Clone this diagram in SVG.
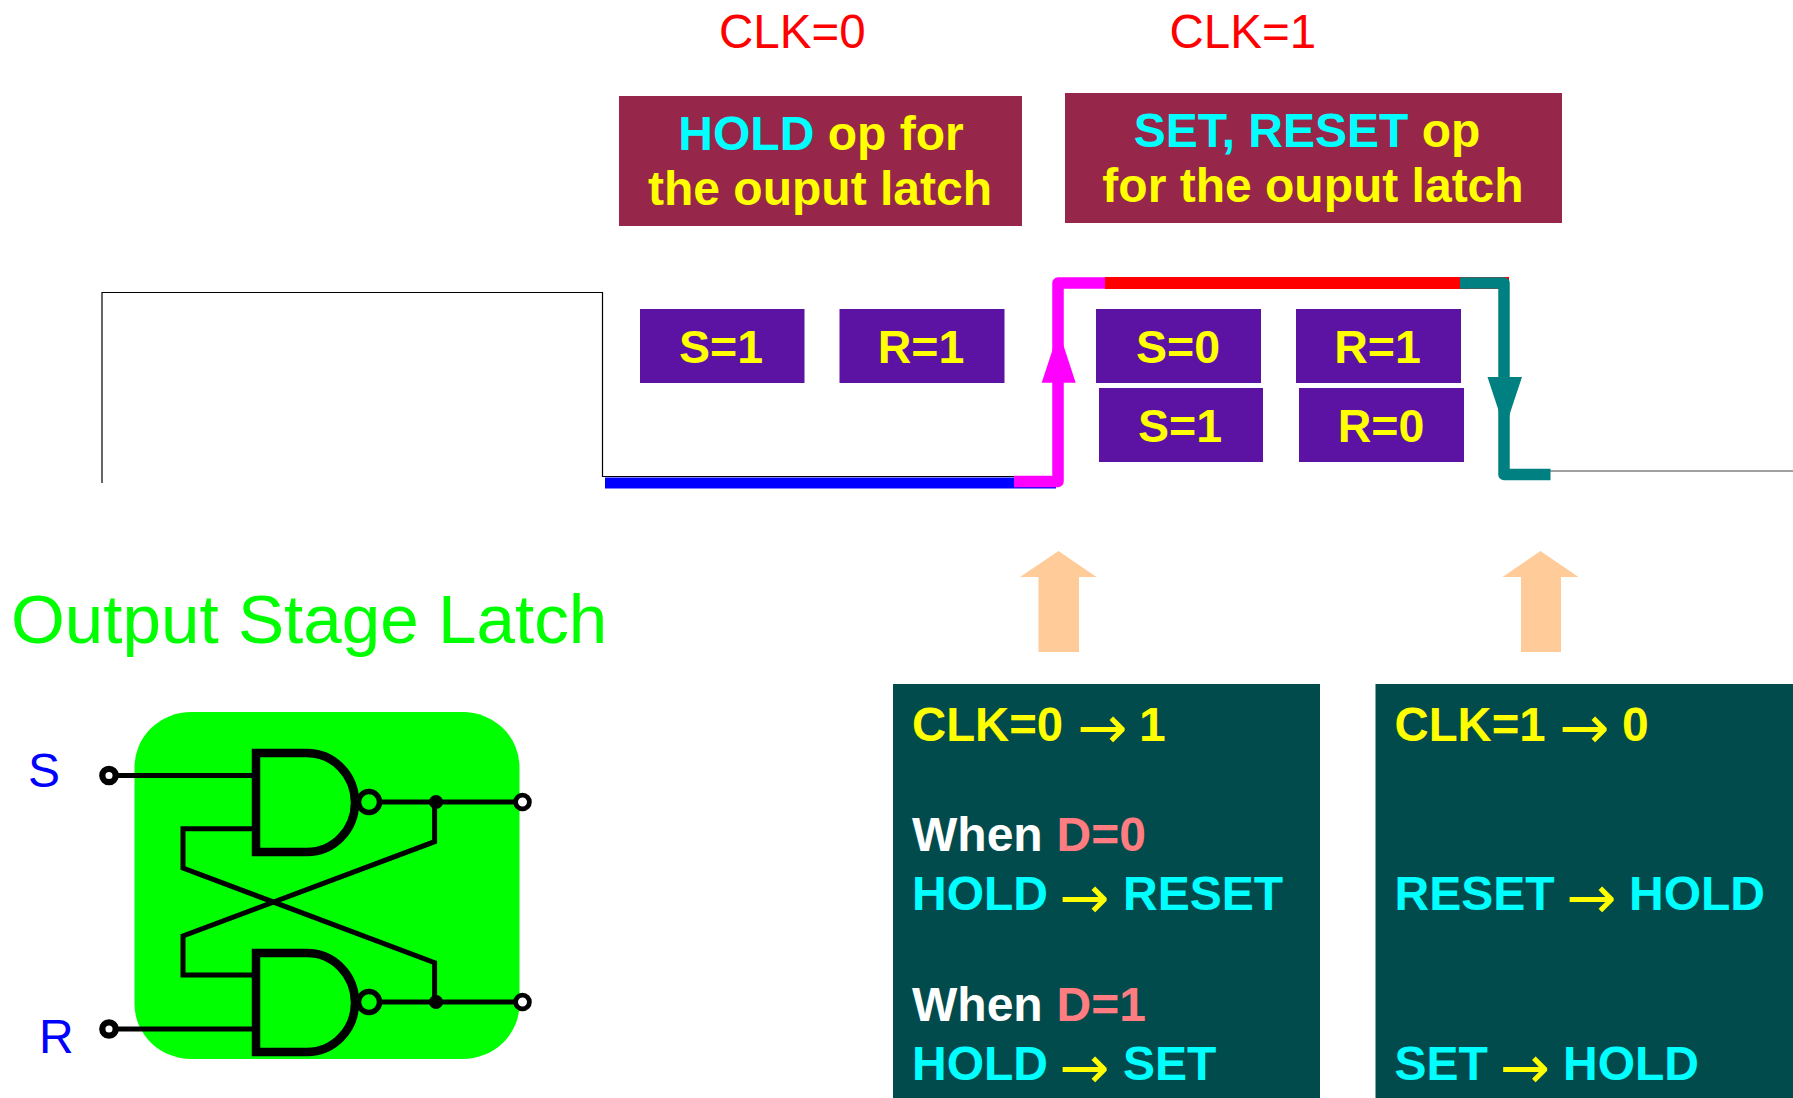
<svg xmlns="http://www.w3.org/2000/svg" width="1793" height="1098" viewBox="0 0 1793 1098">
<style>
text{font-family:"Liberation Sans",Arial,sans-serif}
.b{font-weight:700;font-size:48px}
.s{font-size:46.500px}
.k{font-size:47.300px}
.y{fill:#ffff00}.c{fill:#00ffff}.w{fill:#ffffff}.p{fill:#ff7c80}
.mid{text-anchor:middle}
.ar{font-family:"DejaVu Sans",sans-serif;font-weight:400;font-size:60px;fill:#ffff00}
.reg{fill:#5c12a2}.mar{fill:#96264a}.dk{fill:#024b4d}.pe{fill:#ffcc99}
.w5{fill:none;stroke:#000;stroke-width:5;stroke-linejoin:miter}
.g{fill:none;stroke:#000;stroke-width:8.500}
.o{fill:#fff;stroke:#000;stroke-width:4.800}
.i{fill:#fff;stroke:#000;stroke-width:6.300}
.bb{fill:#00ff00;stroke:#000;stroke-width:5.500}
</style>
<rect width="1793" height="1098" fill="#fff"/>
<g id="clk-labels">
<text x="719" y="48" font-size="47.500" fill="#ff0000">CLK=0</text>
<text x="1169.500" y="48" font-size="47.500" fill="#ff0000">CLK=1</text>
</g>
<g id="hold-box">
<rect class="mar" x="619" y="96" width="403" height="130"/>
<text class="b mid y" x="821" y="150"><tspan class="c">HOLD</tspan> op for</text>
<text class="b mid y" x="820" y="205">the ouput latch</text>
</g>
<g id="setreset-box">
<rect class="mar" x="1065" y="93" width="497" height="130"/>
<text class="b mid y" x="1307" y="147"><tspan class="c">SET, RESET</tspan> op</text>
<text class="b mid y" x="1313" y="202">for the ouput latch</text>
</g>
<g id="connectors">
<path d="M102 483V292.500H602.500V476.500H1020" fill="none" stroke="#000" stroke-width="1.200"/>
<path d="M1550 471H1793" fill="none" stroke="#808080" stroke-width="1.500"/>
<rect x="605" y="477.500" width="451" height="11" fill="#0000ff"/>
<rect x="1105" y="277" width="404" height="12" fill="#ff0000"/>
<path d="M1014 481.500H1058V283H1105" fill="none" stroke="#ff00ff" stroke-width="11.500" stroke-linejoin="round"/>
<path d="M1041.700 382.700H1075.700L1058.700 331Z" fill="#ff00ff"/>
<path d="M1460 283H1504V474.500H1550.500" fill="none" stroke="#008080" stroke-width="11.500" stroke-linejoin="round"/>
<path d="M1487.500 377H1522L1504.700 429Z" fill="#008080"/>
<path class="pe" d="M1058.500 551L1096.500 577H1079V652H1038.500V577H1020Z"/>
<path class="pe" d="M1540.500 551L1578.500 577H1561V652H1521V577H1502.500Z"/>
</g>
<g id="s1"><rect class="reg" x="640" y="309" width="164.500" height="74"/><text class="b s mid y" x="721" y="362.500">S=1</text></g>
<g id="r1"><rect class="reg" x="839.500" y="309" width="165" height="74"/><text class="b s mid y" x="921" y="362.500">R=1</text></g>
<g id="s0b"><rect class="reg" x="1096" y="309" width="165" height="74"/><text class="b s mid y" x="1178" y="362.500">S=0</text></g>
<g id="r1b"><rect class="reg" x="1296" y="309" width="165" height="74"/><text class="b s mid y" x="1377.500" y="362.500">R=1</text></g>
<g id="s1b"><rect class="reg" x="1099" y="388" width="164" height="74"/><text class="b s mid y" x="1180" y="441.500">S=1</text></g>
<g id="r0b"><rect class="reg" x="1299" y="388" width="165" height="74"/><text class="b s mid y" x="1381" y="441.500">R=0</text></g>
<g id="latch">
<text x="11" y="643" font-size="69.200" fill="#00ff00">Output Stage Latch</text>
<rect x="134.500" y="712" width="385" height="347" rx="57" ry="55" fill="#00ff00"/>
<text x="28" y="787" font-size="48" fill="#0000ff">S</text>
<text x="39" y="1053" font-size="48" fill="#0000ff">R</text>
<path class="w5" d="M114 775.500H252M114 1029H252M382 802H516M382 1002H516"/>
<path class="w5" d="M252 828.700H183V868L434.600 962.700V1002"/>
<path class="w5" d="M252 975H183V936L434.600 841.700V802"/>
<path class="g" d="M256 753H307A48 49.500 0 0 1 307 852H256Z"/>
<path class="g" d="M256 953H307A48 49.500 0 0 1 307 1052H256Z"/>
<circle class="bb" cx="369" cy="802" r="10.500"/>
<circle class="bb" cx="369" cy="1002" r="10.500"/>
<circle cx="436" cy="802" r="7"/><circle cx="436" cy="1002" r="7"/>
<circle class="i" cx="109" cy="775.500" r="6.700"/>
<circle class="i" cx="109" cy="1029" r="6.700"/>
<circle class="o" cx="522.500" cy="802" r="6.900"/>
<circle class="o" cx="522.500" cy="1002" r="6.900"/>
</g>
<g id="rise-box">
<rect class="dk" x="893" y="684" width="427" height="414"/>
<text class="b k y" x="912" y="740.500">CLK=0</text>
<text class="ar" x="1077.500" y="748">→</text>
<text class="b y" x="1139" y="740.500">1</text>
<text class="b w" x="912" y="851">When <tspan class="p" x="1056.500">D=0</tspan></text>
<text class="b c" x="912" y="910">HOLD</text>
<text class="ar" x="1059.500" y="917.500">→</text>
<text class="b c" x="1123" y="910">RESET</text>
<text class="b w" x="912" y="1021">When <tspan class="p" x="1056.500">D=1</tspan></text>
<text class="b c" x="912" y="1080">HOLD</text>
<text class="ar" x="1059.500" y="1087.500">→</text>
<text class="b c" x="1123" y="1080">SET</text>
</g>
<g id="fall-box">
<rect class="dk" x="1375.500" y="684" width="418" height="414"/>
<text class="b k y" x="1394.500" y="740.500">CLK=1</text>
<text class="ar" x="1559.500" y="748">→</text>
<text class="b y" x="1622" y="740.500">0</text>
<text class="b c" x="1394.500" y="910">RESET</text>
<text class="ar" x="1566.500" y="917.500">→</text>
<text class="b c" x="1629" y="910">HOLD</text>
<text class="b c" x="1394.500" y="1080">SET</text>
<text class="ar" x="1500" y="1087.500">→</text>
<text class="b c" x="1563" y="1080">HOLD</text>
</g>
</svg>
